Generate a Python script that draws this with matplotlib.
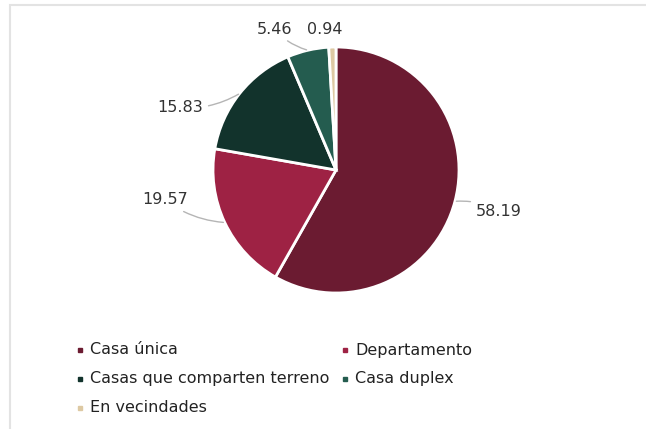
import numpy as np
import matplotlib.pyplot as plt
from matplotlib.patches import Rectangle

# data
categories = ['Casa única', 'Departamento', 'Casas que comparten terreno',
              'Casa duplex', 'En vecindades']
values = [58.19, 19.57, 15.83, 5.46, 0.94]
colors = ['#6b1b31', '#9e2244', '#12332c', '#245c4f', '#ddc9a3']

W, H = 646, 429
fig = plt.figure(figsize=(W / 100, H / 100), dpi=100)
ax = fig.add_axes([0, 0, 1, 1])

cx, cy, r = 336, H - 170, 123
wedges, _ = ax.pie(values, colors=colors, startangle=90, counterclock=False,
                   center=(cx, cy), radius=r, frame=True,
                   wedgeprops=dict(edgecolor='white', linewidth=2))
ax.set_xlim(0, W)
ax.set_ylim(0, H)
ax.set_aspect('equal')
ax.axis('off')

# light frame around the chart
ax.add_patch(Rectangle((10, -10), 660, H - 5 + 10, fill=False,
                       edgecolor='#e3e3e3', linewidth=1.5))

# label positions (pixel coords, top-left origin) and text alignment
label_pos = [(476, 211, 'left'), (188, 200, 'right'), (203, 108, 'right'),
             (292, 29, 'right'), (307, 29, 'left')]
draw_leader = [True, True, True, True, False]

for w, v, (lx, ly, ha), lead in zip(wedges, values, label_pos, draw_leader):
    ang = np.deg2rad((w.theta1 + w.theta2) / 2)
    ex, ey = cx + r * np.cos(ang), cy + r * np.sin(ang)
    props = dict(arrowstyle='-', color='#b5b5b5', lw=1.0, shrinkA=2, shrinkB=1,
                 connectionstyle='arc3,rad=0.15') if lead else None
    ax.annotate(f'{v:.2f}', xy=(ex, ey), xytext=(lx, H - ly),
                ha=ha, va='center', fontsize=11.5, color='#333333',
                family='DejaVu Sans', arrowprops=props)

# legend laid out as in the original (two columns)
leg_pos = [(80, 350), (345, 350), (80, 379), (345, 379), (80, 408)]
for (x, y), name, c in zip(leg_pos, categories, colors):
    ax.plot(x, H - y, marker='s', markersize=3.5, color=c, linestyle='none')
    ax.text(x + 10, H - y, name, va='center', ha='left', fontsize=11.5,
            color='#222222', family='DejaVu Sans')

fig.savefig('out.png', dpi=100)
